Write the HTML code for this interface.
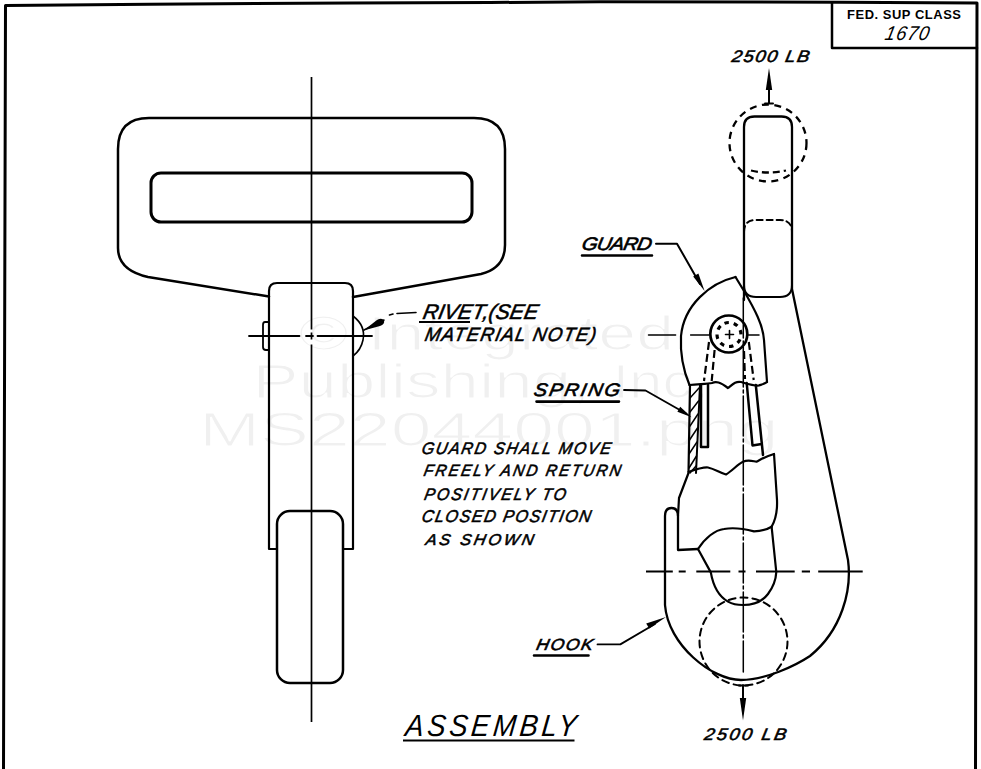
<!DOCTYPE html>
<html><head><meta charset="utf-8">
<style>
html,body{margin:0;padding:0;background:#fff;}
body{width:981px;height:769px;overflow:hidden;}
svg{display:block;}
.wm{font-family:"Liberation Sans",sans-serif;fill:#f0f0f0;font-size:48px;stroke:#fff;stroke-width:1.2px;}
.lt{font-family:"Liberation Sans",sans-serif;font-style:italic;fill:#000;stroke:#000;stroke-width:0.6px;}
</style></head>
<body>
<svg width="981" height="769" viewBox="0 0 981 769">
<rect x="0" y="0" width="981" height="769" fill="#fff"/>
<!-- watermark -->
<g class="wm">
<text x="298.5" y="350" textLength="375.5" lengthAdjust="spacingAndGlyphs">© Integrated</text>
<text x="252.4" y="398" textLength="338" lengthAdjust="spacingAndGlyphs">Publishing,</text>
<text x="612.4" y="398" textLength="96.7" lengthAdjust="spacingAndGlyphs">Inc.</text>
<text x="198.9" y="446" textLength="579.7" lengthAdjust="spacingAndGlyphs">MS22044001.png</text>
</g>

<g fill="none" stroke="#000" stroke-linecap="round" stroke-linejoin="round">
<!-- border -->
<path d="M3.5,769 L5.5,5.5 L150,4.3 L350,3 L490,2.5 L600,1.8 L840,2.2 L977,3 L975.5,769" stroke-width="3" stroke-linecap="butt"/>
<!-- title box -->
<path d="M832,3 L832,48 L977,48" stroke-width="2.5"/>

<!-- LEFT FIGURE -->
<!-- buckle outline -->
<path d="M269,296.5 L148,277 C126,272 118,262 118,248 L118,149 Q118,118 149,118 L474,118 Q505,118 505,149 L505,245 C505,260 497,270 481,274 L353,297" stroke-width="2.5"/>
<!-- slot -->
<rect x="151" y="173" width="321" height="49" rx="10" ry="10" stroke-width="3"/>
<!-- strap -->
<path d="M277,549 L269,549 L269,291 Q269,283 277,283 L345,283 Q353,283 353,291 L353,549 L343,549" stroke-width="2.2"/>
<!-- lower rounded rect -->
<rect x="277" y="511" width="66" height="172" rx="13" ry="13" stroke-width="2.5"/>
<!-- centerline -->
<path d="M311.5,77 L311.5,329.5 M311.5,332.5 L311.5,339.5 M311.5,344.5 L311.5,722" stroke-width="1.7" stroke-linecap="butt"/>
<!-- horizontal centerline -->
<path d="M249,336 L299.5,336 M306,336 L313,336 M317.5,336 L372,336" stroke-width="1.8"/>
<!-- rivet heads -->
<path d="M269,322 L265,322 Q263,322 263,325 L263,347 Q263,350 266,350 L269,350" stroke-width="1.8"/>
<path d="M353,316 Q366,326 363,340 Q361,350 353,356" stroke-width="1.6"/>
<!-- rivet leader -->
<path d="M389.5,315 L393,314 M397,313.5 L416,312.5" stroke-width="1.6"/>
<path d="M364,330 L384,320" stroke-width="1.5"/>
</g>
<path d="M363.5,330.5 L377,320 Q382,317.5 384,320.5 Q385,324 380,326 Z" fill="#000"/>

<!-- texts left -->

<g fill="none" stroke="#000">
<path d="M419,322 L470,322" stroke-width="2"/>
</g>
<!-- ASSEMBLY -->
<path d="M403,740.5 L574.5,740.5" stroke="#000" stroke-width="2"/>

<!-- title text -->




<!-- RIGHT FIGURE -->
<g fill="none" stroke="#000" stroke-linecap="round" stroke-linejoin="round">
<!-- top arrow -->
<path d="M769,88 L769,103.5 M765,103.5 L773,103.5" stroke-width="2"/>
<!-- top dashed circle -->
<circle cx="768" cy="143" r="38.5" stroke-width="2.3" stroke-dasharray="7 5.5" stroke-linecap="butt"/>
<!-- inner dashed arc -->
<path d="M751,170.5 Q768,174.5 786,170.5" stroke-width="2.3" stroke-dasharray="7 4" stroke-linecap="butt"/>
<!-- shank -->
<path d="M744,300 L744,127 Q744,116.5 754.5,116.5 L781.5,116.5 Q792,116.5 792,127 L792,289 L848,560 C852,590 842,630 810,656 C795,666 765,680 741,680 C712,680 668,645 665,605 L665,516 Q665,508 671.5,508 Q678,508 678,516 L678,550 L698,549" stroke-width="2.3"/>
<!-- inner rect in shank -->
<path d="M744,232 Q744,220 756,220 L780,220 Q792,220 792,232" stroke-width="2" stroke-dasharray="6 4"/>
<path d="M744,285 Q744,297 756,297 L780,297 Q792,297 792,285" stroke-width="2"/>
<!-- guard outline -->
<path d="M735.5,277 C710,283 684,305 681,336 C680,355 684,372 689.5,385" stroke-width="2.2"/>
<path d="M735.5,277 L744,291 C755,310 763,325 764,340 L767,382" stroke-width="2.2"/>
<!-- upper break line -->
<path d="M689.5,385 C700,384 708,384 712,383 C716,381 720,382 728,388 C733,384 736,381 741,382 C748,384 754,386 759,385.5 C763,384 766,383 767,382" stroke-width="2.2"/>
<!-- pin -->
<circle cx="728.8" cy="334" r="18.5" stroke-width="2.7"/>
<circle cx="729" cy="334.5" r="12" stroke-width="3.2" stroke-dasharray="4.4 5" stroke-linecap="butt" transform="rotate(-112 729 334.5)"/>
<path d="M725.5,334.5 L733.5,334.5 M729.5,330.5 L729.5,338.5" stroke-width="1.6"/>
<!-- horizontal centerline pin -->
<path d="M648.5,335 L675.6,335 M690.6,335 L709,335 M748.5,335 L759,335" stroke-width="1.5"/>
<!-- vertical centerline -->
<path d="M743.3,298 L743.3,672" stroke-width="1.5" stroke-dasharray="40 3 3 3"/>
<!-- hidden lines under pin -->
<path d="M709,342 L704,381 M714.6,350 L711.7,381 M744,351 L745,379 M748.8,342 L753.7,380" stroke-width="2.2" stroke-dasharray="8 4" stroke-linecap="butt"/>
<!-- spring section outline -->
<path d="M690,385 L688.5,473 L679,498 L678,516" stroke-width="2.2"/>
<path d="M700,385 L696,473" stroke-width="2"/>
<path d="M701,385 L701,447 L708,447 L708,385" stroke-width="2.5"/>
<path d="M746.7,383 L752.5,445.5 L761.6,444 M755.8,385 L763,455" stroke-width="2.5"/>
<!-- spring hatch -->
<path d="M690,398 L699,388 M690,412 L698.5,401 M690,426 L698,414 M689.5,440 L697.5,428 M689,454 L697,442 M689,468 L696.5,456 M690,473 L696,466" stroke-width="1.5"/>
<!-- lower break line -->
<path d="M688.5,472 C697,469 703,467 708,467.5 C715,469 720,473 726,474.5 C732,471 738,464 743,461.7 C748,459.5 752,461 756.4,461.7 C760,460 764,457 774,454" stroke-width="2.2"/>
<path d="M774,454 L777,500 C777.5,512 775.5,520 771.6,526.7" stroke-width="2.2"/>
<!-- throat top arc -->
<path d="M698,549 C705,538 715,530 724,529 C735,527 745,529 754,531.4 C762,531 768,529 771.6,526.7" stroke-width="2.2"/>
<!-- saddle -->
<path d="M698,549 L710.8,572.4 C713,585 718,596 728,601.6 C734,605 740,605 743,605 C752,605 762,602 768,594 C774,586 776,578 776.3,572 L771.6,526.7" stroke-width="2.2"/>
<!-- horizontal centerline hook -->
<path d="M646,571.5 L672.8,571.5 M678.7,571.5 L685.7,571.5 M696.3,571.5 L730.3,571.5 M738.5,571.5 L745.5,571.5 M756,571.5 L794.7,571.5 M801.8,571.5 L810,571.5 M818.2,571.5 L862.7,571.5" stroke-width="1.8" stroke-linecap="butt"/>
<!-- lower dashed circle -->
<circle cx="743.5" cy="641.5" r="44" stroke-width="2" stroke-dasharray="7 5"/>
<!-- bottom arrow -->
<path d="M743,685 L743,700 M739,685.5 L748,685.5" stroke-width="2"/>
<!-- leaders -->
<path d="M656,243.7 L677,243.7 L700,284" stroke-width="2"/>
<path d="M624,390 L645.5,390.5 L686,413.5" stroke-width="1.8"/>
<path d="M597.5,644.4 L620.3,644.4 L655,624" stroke-width="1.8"/>
<path d="M582,255.5 L652,255.5 M536.5,401.6 L619,401.6 M534,655.5 L588.5,655.5" stroke-width="2.6"/>
</g>
<g fill="#000">
<path d="M769,68 L765.8,90 L772.2,90 Z"/>
<path d="M743,720.4 L739.8,698 L746.2,698 Z"/>
<path d="M704.6,291.1 L693.2,276.4 L698.4,273.4 Z"/>
<path d="M691.6,417.2 L677.4,411.8 L680.2,406.8 Z"/>
<path d="M666,617.1 L649.2,628.6 L646.2,623.4 Z"/>
</g>

<!-- TEXTS -->
<g fill="#000">
<text transform='translate(847.00,18.50) skewX(0) scale(1.0,1)' x='0' y='0' font-family='Liberation Sans' font-size='12.95' style='font-weight:bold;' textLength='114.00' lengthAdjust='spacing'>FED. SUP CLASS</text>
<text transform='translate(884.00,39.50) skewX(-12) scale(0.92,1)' x='0' y='0' font-family='Liberation Sans' font-size='19.86' style='font-style:italic;' textLength='47.83' lengthAdjust='spacing'>1670</text>
<text transform='translate(731.00,61.50) skewX(-11) scale(1.1,1)' x='0' y='0' font-family='Liberation Sans' font-size='16.71' style='font-style:italic;stroke:#000;stroke-width:0.55px;' textLength='70.45' lengthAdjust='spacing'>2500 LB</text>
<text transform='translate(581.00,250.00) skewX(-11) scale(1.12,1)' x='0' y='0' font-family='Liberation Sans' font-size='18.14' style='font-style:italic;stroke:#000;stroke-width:0.6px;' textLength='62.50' lengthAdjust='spacing'>GUARD</text>
<text transform='translate(422.00,318.90) skewX(-11) scale(1.0,1)' x='0' y='0' font-family='Liberation Sans' font-size='21.16' style='font-style:italic;stroke:#000;stroke-width:0.55px;' textLength='115.00' lengthAdjust='spacing'>RIVET,(SEE</text>
<text transform='translate(424.00,341.40) skewX(-11) scale(0.97,1)' x='0' y='0' font-family='Liberation Sans' font-size='19.28' style='font-style:italic;stroke:#000;stroke-width:0.55px;' textLength='176.29' lengthAdjust='spacing'>MATERIAL NOTE)</text>
<text transform='translate(533.00,396.00) skewX(-11) scale(1.1,1)' x='0' y='0' font-family='Liberation Sans' font-size='18.14' style='font-style:italic;stroke:#000;stroke-width:0.6px;' textLength='78.18' lengthAdjust='spacing'>SPRING</text>
<text transform='translate(421.00,453.50) skewX(-11) scale(0.95,1)' x='0' y='0' font-family='Liberation Sans' font-size='16.70' style='font-style:italic;stroke:#000;stroke-width:0.55px;' textLength='198.95' lengthAdjust='spacing'>GUARD SHALL MOVE</text>
<text transform='translate(423.00,475.50) skewX(-11) scale(0.95,1)' x='0' y='0' font-family='Liberation Sans' font-size='16.31' style='font-style:italic;stroke:#000;stroke-width:0.55px;' textLength='207.37' lengthAdjust='spacing'>FREELY AND RETURN</text>
<text transform='translate(423.50,500.00) skewX(-11) scale(0.95,1)' x='0' y='0' font-family='Liberation Sans' font-size='16.70' style='font-style:italic;stroke:#000;stroke-width:0.55px;' textLength='148.95' lengthAdjust='spacing'>POSITIVELY TO</text>
<text transform='translate(421.00,522.00) skewX(-11) scale(0.95,1)' x='0' y='0' font-family='Liberation Sans' font-size='17.09' style='font-style:italic;stroke:#000;stroke-width:0.55px;' textLength='177.89' lengthAdjust='spacing'>CLOSED POSITION</text>
<text transform='translate(425.00,545.00) skewX(-11) scale(1.05,1)' x='0' y='0' font-family='Liberation Sans' font-size='15.66' style='font-style:italic;stroke:#000;stroke-width:0.55px;' textLength='102.86' lengthAdjust='spacing'>AS SHOWN</text>
<text transform='translate(535.50,650.00) skewX(-11) scale(1.1,1)' x='0' y='0' font-family='Liberation Sans' font-size='16.05' style='font-style:italic;stroke:#000;stroke-width:0.6px;' textLength='51.36' lengthAdjust='spacing'>HOOK</text>
<text transform='translate(404.50,736.00) skewX(-6) scale(0.9,1)' x='0' y='0' font-family='Liberation Sans' font-size='30.61' style='font-style:italic;' textLength='190.00' lengthAdjust='spacing'>ASSEMBLY</text>
<text transform='translate(703.50,739.50) skewX(-11) scale(1.1,1)' x='0' y='0' font-family='Liberation Sans' font-size='16.70' style='font-style:italic;stroke:#000;stroke-width:0.55px;' textLength='74.55' lengthAdjust='spacing'>2500 LB</text>
</g>
</svg>
</body></html>
